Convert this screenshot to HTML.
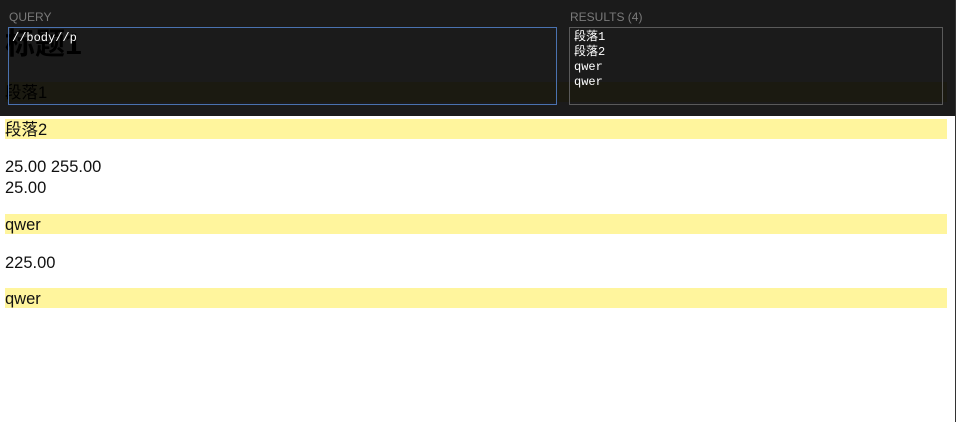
<!DOCTYPE html>
<html><head><meta charset="utf-8"><style>
html,body{margin:0;padding:0;width:956px;height:422px;overflow:hidden;background:#fff;font-family:"Liberation Sans","Noto Sans CJK SC",sans-serif;color:#111;}
.abs{position:absolute;}
.hl{position:absolute;left:5px;width:942px;height:20px;background:#fff59d;}
.t{position:absolute;left:5px;font-size:16.5px;line-height:20px;}
#panel{position:absolute;left:0;top:0;width:955px;height:116px;background:rgba(0,0,0,0.895);}
.lbl{position:absolute;top:10px;font-size:12px;color:#7a7a7a;}
.mono{font-family:"Liberation Mono","WenQuanYi Zen Hei",monospace;font-size:12px;color:#fff;line-height:15px;}
</style></head><body>
<div class="t" style="top:27px;font-size:30px;font-weight:bold;line-height:36px;color:#000;">标题1</div>
<div class="hl" style="top:82px;"></div><div class="t" style="top:83px;color:#000;">段落1</div>
<div class="hl" style="top:119px;"></div><div class="t" style="top:120px;">段落2</div>
<div class="t" style="top:157px;">25.00 255.00</div>
<div class="t" style="top:178px;">25.00</div>
<div class="hl" style="top:214px;"></div><div class="t" style="top:215px;">qwer</div>
<div class="t" style="top:253px;">225.00</div>
<div class="hl" style="top:288px;"></div><div class="t" style="top:289px;">qwer</div>
<div id="panel">
<div class="lbl" style="left:9px;">QUERY</div>
<div class="lbl" style="left:570px;">RESULTS (4)</div>
<div class="abs" style="left:8px;top:27px;width:547px;height:76px;border:1px solid #4a72b0;"></div>
<div class="abs mono" style="left:12px;top:31px;">//body//p</div>
<div class="abs" style="left:569px;top:27px;width:372px;height:76px;border:1px solid #5a5a5a;"></div>
<div class="abs mono" style="left:574px;top:30px;">段落1<br>段落2<br>qwer<br>qwer</div>
</div>
<div class="abs" style="left:955px;top:0;width:1px;height:422px;background:#333;"></div>
</body></html>
